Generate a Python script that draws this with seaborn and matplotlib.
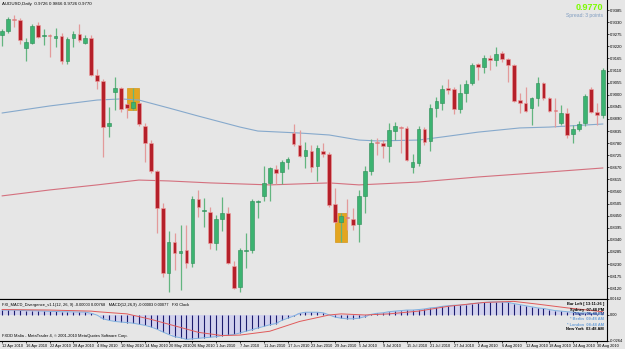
import numpy as np
import pandas as pd
import matplotlib
matplotlib.use("Agg")
import matplotlib.pyplot as plt
from matplotlib.patches import Rectangle
import seaborn as sns

# ---------------- data ----------------
opens = [0.9271, 0.9290, 0.9344, 0.9340, 0.9212, 0.9235, 0.9317, 0.9267, 0.9271, 0.9258,
         0.9267, 0.9153, 0.9258, 0.9276, 0.9235, 0.9258, 0.9090, 0.9062, 0.8858, 0.9012,
         0.9030, 0.8958, 0.8940, 0.8962, 0.8858, 0.8780, 0.8653, 0.8485, 0.8190, 0.8330,
         0.8280, 0.8294, 0.8235, 0.8526, 0.8471, 0.8467, 0.8326, 0.8435, 0.8462, 0.8221,
         0.8126, 0.8290, 0.8294, 0.8512, 0.8540, 0.8599, 0.8662, 0.8649, 0.8694, 0.8826,
         0.8771, 0.8721, 0.8744, 0.8676, 0.8744, 0.8730, 0.8503, 0.8421, 0.8444, 0.8435,
         0.8412, 0.8540, 0.8653, 0.8785, 0.8780, 0.8767, 0.8835, 0.8853, 0.8849, 0.8671,
         0.8690, 0.8844, 0.8790, 0.8940, 0.8962, 0.9030, 0.9026, 0.8935, 0.9008, 0.9053,
         0.9140, 0.9126, 0.9167, 0.9158, 0.9190, 0.9162, 0.9135, 0.8976, 0.8962, 0.8940,
         0.8985, 0.9053, 0.8985, 0.8930, 0.8871, 0.8917, 0.8821, 0.8844, 0.8871, 0.9026,
         0.8921, 0.8908]
highs = [0.9299, 0.9353, 0.9362, 0.9349, 0.9258, 0.9321, 0.9331, 0.9299, 0.9276, 0.9303,
         0.9280, 0.9262, 0.9290, 0.9321, 0.9271, 0.9271, 0.9117, 0.9071, 0.8944, 0.9080,
         0.9035, 0.8962, 0.9030, 0.8967, 0.8871, 0.8794, 0.8660, 0.8508, 0.8380, 0.8371,
         0.8408, 0.8408, 0.8540, 0.8567, 0.8530, 0.8490, 0.8453, 0.8535, 0.8490, 0.8244,
         0.8303, 0.8371, 0.8526, 0.8521, 0.8676, 0.8671, 0.8680, 0.8703, 0.8717, 0.8867,
         0.8840, 0.8785, 0.8771, 0.8771, 0.8780, 0.8740, 0.8576, 0.8462, 0.8526, 0.8485,
         0.8567, 0.8676, 0.8799, 0.8803, 0.8794, 0.8871, 0.8876, 0.8858, 0.8858, 0.8730,
         0.8858, 0.8853, 0.8958, 0.8990, 0.9044, 0.9071, 0.9035, 0.9049, 0.9067, 0.9144,
         0.9144, 0.9180, 0.9180, 0.9217, 0.9199, 0.9167, 0.9140, 0.9008, 0.9035, 0.8990,
         0.9080, 0.9058, 0.8990, 0.8985, 0.8953, 0.8940, 0.8862, 0.8880, 0.9003, 0.9035,
         0.8962, 0.9121]
lows = [0.9221, 0.9280, 0.9308, 0.9230, 0.9153, 0.9233, 0.9258, 0.9226, 0.9171, 0.9217,
        0.9140, 0.9140, 0.9217, 0.9240, 0.9233, 0.9085, 0.9026, 0.8717, 0.8808, 0.8930,
        0.8921, 0.8894, 0.8930, 0.8858, 0.8694, 0.8644, 0.8371, 0.8171, 0.8103, 0.8203,
        0.8112, 0.8212, 0.8217, 0.8444, 0.8399, 0.8299, 0.8294, 0.8380, 0.8230, 0.8117,
        0.8103, 0.8212, 0.8280, 0.8440, 0.8517, 0.8517, 0.8594, 0.8594, 0.8662, 0.8767,
        0.8717, 0.8667, 0.8649, 0.8608, 0.8717, 0.8490, 0.8417, 0.8330, 0.8385, 0.8385,
        0.8330, 0.8462, 0.8635, 0.8726, 0.8712, 0.8694, 0.8794, 0.8735, 0.8699, 0.8644,
        0.8676, 0.8771, 0.8744, 0.8899, 0.8930, 0.9003, 0.8912, 0.8917, 0.8967, 0.9044,
        0.9067, 0.9099, 0.9112, 0.9130, 0.9149, 0.9058, 0.8967, 0.8917, 0.8921, 0.8862,
        0.8949, 0.8976, 0.8921, 0.8853, 0.8862, 0.8803, 0.8780, 0.8835, 0.8858, 0.8917,
        0.8862, 0.8894]
closes = [0.9290, 0.9344, 0.9340, 0.9249, 0.9240, 0.9312, 0.9262, 0.9271, 0.9267, 0.9267,
          0.9153, 0.9253, 0.9276, 0.9249, 0.9258, 0.9090, 0.9062, 0.8853, 0.8871, 0.9030,
          0.8935, 0.8940, 0.8967, 0.8867, 0.8780, 0.8653, 0.8485, 0.8190, 0.8330, 0.8280,
          0.8290, 0.8235, 0.8526, 0.8490, 0.8476, 0.8326, 0.8435, 0.8462, 0.8235, 0.8121,
          0.8294, 0.8294, 0.8517, 0.8517, 0.8599, 0.8667, 0.8644, 0.8694, 0.8708, 0.8776,
          0.8721, 0.8749, 0.8671, 0.8758, 0.8730, 0.8499, 0.8421, 0.8449, 0.8440, 0.8408,
          0.8540, 0.8653, 0.8780, 0.8780, 0.8767, 0.8840, 0.8858, 0.8849, 0.8703, 0.8694,
          0.8844, 0.8785, 0.8940, 0.8971, 0.9026, 0.9021, 0.8935, 0.9008, 0.9049, 0.9135,
          0.9126, 0.9167, 0.9158, 0.9185, 0.9162, 0.9135, 0.8971, 0.8962, 0.8926, 0.8985,
          0.9053, 0.8985, 0.8926, 0.8926, 0.8917, 0.8817, 0.8844, 0.8867, 0.8994, 0.8921,
          0.8908, 0.9112]

ma_fast_bar = [0, 8, 16, 20, 23, 28, 33, 40, 43, 50, 55, 60, 63, 70, 74, 80, 87, 92, 101]
ma_fast_val = [0.8917, 0.8949, 0.8976, 0.8981, 0.8976, 0.8940, 0.8903, 0.8853, 0.8835, 0.8826,
               0.8817, 0.8794, 0.8790, 0.8794, 0.8808, 0.8830, 0.8849, 0.8853, 0.8867]
ma_slow_bar = [0, 8, 16, 23, 28, 35, 45, 55, 60, 67, 70, 80, 92, 101]
ma_slow_val = [0.8540, 0.8567, 0.8590, 0.8612, 0.8608, 0.8599, 0.8590, 0.8599, 0.8590, 0.8599,
               0.8603, 0.8626, 0.8649, 0.8667]

highlight_bars = [22, 57]

macd_hist = [0.0050, 0.0050, 0.0050, 0.0047, 0.0044, 0.0044, 0.0042, 0.0040, 0.0037, 0.0036,
             0.0033, 0.0033, 0.0031, 0.0030, 0.0029, 0.0017, -0.0002, -0.0039, -0.0055, -0.0066,
             -0.0072, -0.0077, -0.0083, -0.0094, -0.0105, -0.0121, -0.0143, -0.0171, -0.0198, -0.0220,
             -0.0231, -0.0248, -0.0242, -0.0237, -0.0231, -0.0226, -0.0220, -0.0209, -0.0204, -0.0198,
             -0.0182, -0.0165, -0.0149, -0.0132, -0.0116, -0.0099, -0.0088, -0.0055, -0.0033, -0.0011,
             0.0017, 0.0028, 0.0028, 0.0028, 0.0022, 0.0000, -0.0022, -0.0033, -0.0039, -0.0039,
             -0.0033, -0.0017, 0.0006, 0.0017, 0.0022, 0.0033, 0.0039, 0.0044, 0.0050, 0.0050,
             0.0055, 0.0061, 0.0072, 0.0077, 0.0088, 0.0094, 0.0099, 0.0099, 0.0105, 0.0116,
             0.0121, 0.0127, 0.0132, 0.0132, 0.0132, 0.0127, 0.0116, 0.0105, 0.0094, 0.0083,
             0.0072, 0.0066, 0.0055, 0.0044, 0.0039, 0.0033, 0.0028, 0.0022, 0.0022, 0.0017,
             0.0011, 0.0000]
signal_bar = [0, 8, 15, 16, 21, 25, 29, 33, 37, 40, 45, 50, 55, 57, 61, 65, 70, 75, 81, 86, 90, 95, 101]
signal_val = [0.0055, 0.0050, 0.0039, 0.0033, 0.0011, -0.0044, -0.0110, -0.0176, -0.0209, -0.0204,
              -0.0165, -0.0066, 0.0000, 0.0011, 0.0000, 0.0011, 0.0039, 0.0088, 0.0127, 0.0138,
              0.0110, 0.0072, 0.0033]

price_ticks = [0.9385, 0.9330, 0.9275, 0.9220, 0.9165, 0.9110, 0.9055, 0.9000, 0.8945, 0.8890,
               0.8835, 0.8780, 0.8725, 0.8670, 0.8615, 0.8560, 0.8505, 0.8450, 0.8395, 0.8340,
               0.8285, 0.8230, 0.8175, 0.8120]
macd_ticks = [0.0162, 0.0, -0.0264]
macd_tick_labels = ["0.0162", "0.00", "-0.0264"]
date_labels = ["12 Apr 2010", "16 Apr 2010", "22 Apr 2010", "28 Apr 2010", "4 May 2010",
               "10 May 2010", "14 May 2010", "20 May 2010", "26 May 2010", "1 Jun 2010",
               "7 Jun 2010", "11 Jun 2010", "17 Jun 2010", "23 Jun 2010", "29 Jun 2010",
               "5 Jul 2010", "9 Jul 2010", "15 Jul 2010", "21 Jul 2010", "27 Jul 2010",
               "2 Aug 2010", "6 Aug 2010", "12 Aug 2010", "18 Aug 2010", "24 Aug 2010",
               "30 Aug 2010"]
date_label_step = 4

title_text = "AUDUSD,Daily  0.9726 0.9866 0.9726 0.9770"
bid_text = "0.9770"
spread_text = "Spread: 3 points"
macd_title = ("FXI_MACD_Divergence_v1.1(12, 26, 9) -0.00003 0.00768   "
              "MACD(12,26,9) -0.00003 0.00077   FXI Clock")
copyright_text = "FXDD Malta - MetaTrader 4, \u00a9 2001-2010 MetaQuotes Software Corp."
clock_lines = ["Bar Left [ 13:11:26 ]", "Sydney  07:48 PM", "Tokyo  06:48 PM",
               "* Berlin  09:48 AM", "* London  08:48 AM", "New York  03:48 AM"]
clock_colors = ["#000000", "#000000", "#1e3a8a", "#6a9fd8", "#6a9fd8", "#000000"]

# ---------------- styling ----------------
BG = "#e6e6e6"
sns.set_theme(style="white")
plt.rcParams['font.family'] = ['Liberation Sans', 'DejaVu Sans']
plt.rcParams['axes.facecolor'] = BG

W, H = 625, 349
fig = plt.figure(figsize=(W / 100, H / 100), dpi=100)
fig.patch.set_facecolor(BG)


def rect(x0, y0, x1, y1):
    return [x0 / W, 1 - y1 / H, (x1 - x0) / W, (y1 - y0) / H]


ax = fig.add_axes(rect(0, 0, 607, 299))
axm = fig.add_axes(rect(0, 299, 607, 341), sharex=ax)

df = pd.DataFrame({"open": opens, "high": highs, "low": lows, "close": closes})
df["idx"] = np.arange(len(df))
up = df["close"] >= df["open"]

# highlight boxes
for b in highlight_bars:
    ax.add_patch(Rectangle((b - 1.0, df.loc[b, "low"]), 2.0,
                           df.loc[b, "high"] - df.loc[b, "low"],
                           facecolor="#e3a520", edgecolor="#d4961a", lw=0.5, zorder=1))

# wicks
ax.vlines(df.loc[up, "idx"], df.loc[up, "low"], df.loc[up, "high"],
          color="#63b57f", lw=0.9, zorder=2)
ax.vlines(df.loc[~up, "idx"], df.loc[~up, "low"], df.loc[~up, "high"],
          color="#e39a9a", lw=0.9, zorder=2)
# bodies
body_lo = np.minimum(df["open"], df["close"])
body_h = np.maximum(np.abs(df["close"] - df["open"]), 0.0004)
ax.bar(df.loc[up, "idx"], body_h[up], bottom=body_lo[up], width=0.62,
       color="#3cb371", edgecolor="#2e8b57", lw=0.4, zorder=3)
ax.bar(df.loc[~up, "idx"], body_h[~up], bottom=body_lo[~up], width=0.62,
       color="#b5202a", edgecolor="#f0a0a0", lw=0.4, zorder=3)

# moving averages
sns.lineplot(x=ma_fast_bar, y=ma_fast_val, ax=ax, color="#86a9cc", lw=0.8, zorder=1.5)
sns.lineplot(x=ma_slow_bar, y=ma_slow_val, ax=ax, color="#d4707e", lw=0.8, zorder=1.5)

ax.set_xlim(-0.34, 101.68)
ax.set_ylim(0.8071, 0.9431)
ax.yaxis.tick_right()
ax.set_yticks(price_ticks)
ax.set_yticklabels([f"{v:.4f}" for v in price_ticks])
ax.tick_params(axis="y", right=True, length=1.5, width=0.5, labelsize=3.0, pad=0.8, colors="black")
ax.tick_params(axis="x", bottom=False, labelbottom=False)
ax.set_xlabel("")
ax.set_ylabel("")
for s in ["left", "top"]:
    ax.spines[s].set_visible(False)
ax.spines["right"].set_color("black")
ax.spines["right"].set_linewidth(0.8)
ax.spines["bottom"].set_color("black")
ax.spines["bottom"].set_linewidth(0.8)

# ---------------- MACD panel ----------------
idx = np.arange(len(macd_hist))
axm.bar(idx, macd_hist, width=1.0, color="#d2d2ee", lw=0, zorder=1)
axm.vlines(idx, 0, macd_hist, color="#1c1c6e", lw=0.8, zorder=2)
sns.lineplot(x=idx, y=macd_hist, ax=axm, color="#7fb0e0", lw=0.7, zorder=3)
sns.lineplot(x=signal_bar, y=signal_val, ax=axm, color="#e05a5a", lw=0.7, zorder=3)
axm.set_ylim(-0.0264, 0.0162)
axm.yaxis.tick_right()
axm.set_yticks(macd_ticks)
axm.set_yticklabels(macd_tick_labels)
axm.tick_params(axis="y", right=True, length=1.5, width=0.5, labelsize=2.8, pad=0.8, colors="black")
axm.set_xticks(np.arange(0, len(date_labels) * date_label_step, date_label_step))
axm.set_xticklabels(date_labels, ha="left")
axm.tick_params(axis="x", bottom=True, length=1.5, width=0.5, labelsize=2.8, pad=0.8, colors="black")
axm.set_xlabel("")
axm.set_ylabel("")
axm.spines["left"].set_visible(False)
for s in ["top", "right", "bottom"]:
    axm.spines[s].set_color("black")
    axm.spines[s].set_linewidth(0.8)
axm.set_xlim(-0.34, 101.68)

# ---------------- texts ----------------
def ftext(x, y, s, **kw):
    fig.text(x / W, 1 - y / H, s, va="center", **kw)

ftext(2, 4, title_text, fontsize=3.2, color="black")
ftext(603, 8, bid_text, fontsize=6.5, color="#7cfc00", ha="right", weight="bold")
ftext(603, 16, spread_text, fontsize=3.6, color="#7f9cc0", ha="right")
ftext(2, 305, macd_title, fontsize=2.9, color="black")
ftext(2, 336, copyright_text, fontsize=2.9, color="black")
for i, (line, c) in enumerate(zip(clock_lines, clock_colors)):
    ftext(604, 304.5 + i * 5.0, line, fontsize=2.9, color=c, ha="right", weight="bold")

fig.savefig("out.png", dpi=100, facecolor=BG)
